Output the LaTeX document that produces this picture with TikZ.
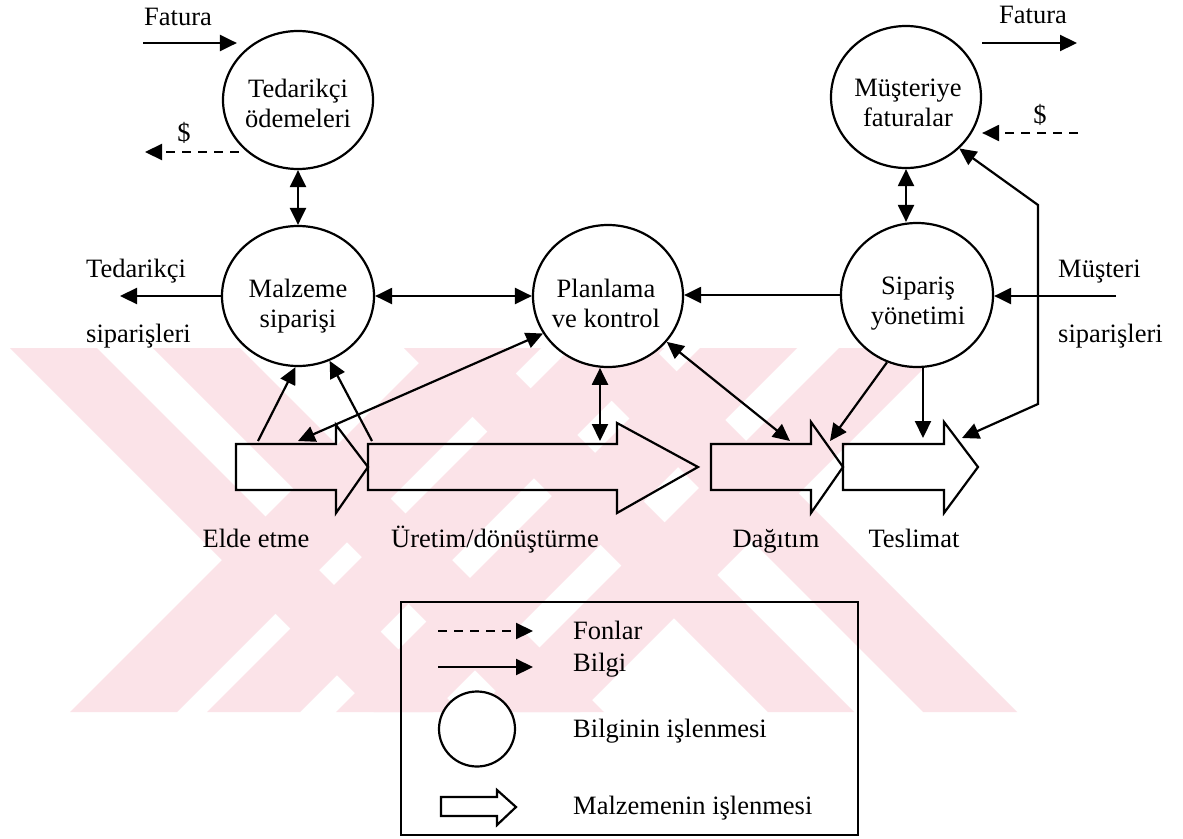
\documentclass[tikz,border=0pt]{standalone}
\usepackage{fontspec}
\setmainfont{Liberation Serif}
\usetikzlibrary{shapes.geometric,arrows.meta,calc}
\definecolor{wmpink}{RGB}{251,227,232}
\newcommand{\lblfont}{\fontsize{26.5}{30}\selectfont}

\begin{document}
\begin{tikzpicture}[x=1pt,y=-1pt,
  proc/.style={ellipse,draw,line width=2.2pt,fill=white,inner sep=0pt},
  ptext/.style={align=center,font=\lblfont,inner sep=0pt},
  lbl/.style={font=\lblfont,inner sep=0pt},
  info/.style={line width=2.2pt,-{Triangle[length=17pt,width=16pt]}},
  both/.style={line width=2.2pt,{Triangle[length=17pt,width=16pt]}-{Triangle[length=17pt,width=16pt]}},
  fund/.style={info,dash pattern=on 9pt off 7pt},
  flow/.style={draw,line width=2.2pt,line join=miter},
  wmband/.style={fill=wmpink,draw=none}]

\fill[white] (0,0) rectangle (1183,838);
\useasboundingbox (0,0) rectangle (1183,838);

% diagonal background bands
\begin{scope}
  \clip (0,348) rectangle (1183,712);
  \foreach \a/\b in {10/97,153/240,404/490,559/653}
    \fill[wmband] (\a,348) -- (\b,348) -- (\b+364,712) -- (\a+364,712) -- cycle;
  \foreach \a/\b in {70/177,207/300,336/433,475/580}
    \fill[wmband] (\a,712) -- (\b,712) -- (\b+364,348) -- (\a+364,348) -- cycle;
\end{scope}

% material flow (block arrows)
\draw[flow] (236,444) -- (336,444) -- (336,425) -- (368,467) -- (336,513) -- (336,490) -- (236,490) -- cycle;
\draw[flow] (368,444) -- (617,444) -- (617,423) -- (698,467) -- (617,513) -- (617,490) -- (368,490) -- cycle;
\draw[flow] (711,444) -- (811,444) -- (811,422) -- (843,467) -- (811,513) -- (811,490) -- (711,490) -- cycle;
\draw[flow] (843,444) -- (944,444) -- (944,422) -- (978,467) -- (944,513) -- (944,490) -- (843,490) -- cycle;

\node[lbl,anchor=base] (elde) at (256,547) {Elde etme};
\node[lbl,anchor=base] (uret) at (495,547) {Üretim/dönüştürme};
\node[lbl,anchor=base] (dagi) at (776,547) {Dağıtım};
\node[lbl,anchor=base] (tesl) at (914,547) {Teslimat};

% attachment points on the block arrows
\coordinate (eldA) at (258,441);
\coordinate (eldB) at (298,441);
\coordinate (urA)  at (372,441);
\coordinate (urB)  at (600,441);
\coordinate (dagA) at (790,441);
\coordinate (dagB) at (830,441);
\coordinate (tesA) at (923,438);
\coordinate (tesB) at (962,438);
\coordinate (lc1)  at (1038,205);
\coordinate (lc2)  at (1038,404);

% information processes
\node[proc,minimum width=150pt,minimum height=138pt] (ted)  at (298,100) {};
\node[proc,minimum width=150pt,minimum height=142pt] (mus)  at (906,97) {};
\node[proc,minimum width=152pt,minimum height=140pt] (mal)  at (298,296) {};
\node[proc,minimum width=150pt,minimum height=142pt] (plan) at (608,296) {};
\node[proc,minimum width=152pt,minimum height=144pt] (sip)  at (917,295) {};

\node[ptext] (ted-t)  at (298,103) {Tedarikçi\\ödemeleri};
\node[ptext] (mus-t)  at (908,103) {Müşteriye\\faturalar};
\node[ptext] (mal-t)  at (298,306) {Malzeme\\siparişi};
\node[ptext] (plan-t) at (606,303) {Planlama\\ve kontrol};
\node[ptext] (sip-t)  at (918,304) {Sipariş\\yönetimi};

% outside labels
\node[lbl,anchor=base] (fatL-t) at (178,25) {Fatura};
\node[lbl,anchor=base] (fatR-t) at (1033,23) {Fatura};
\node[lbl,anchor=base] (dolL-t) at (184,141) {\$};
\node[lbl,anchor=base] (dolR-t) at (1040,123) {\$};
\node[lbl,anchor=base west] (ts1) at (86,277) {Tedarikçi};
\node[lbl,anchor=base west] (ts2) at (86,342) {siparişleri};
\node[lbl,anchor=base west] (ms1) at (1058,277) {Müşteri};
\node[lbl,anchor=base west] (ms2) at (1058,342) {siparişleri};

\coordinate (fatL) at (143,43);
\coordinate (dolL) at (145,152);
\coordinate (fatR) at (1077,43);
\coordinate (dolR) at (1078,133);
\coordinate (tsL)  at (120,296);
\coordinate (msR)  at (1116,296);

% invoices and funds
\draw[info] (fatL) -- ($(fatL -| ted.west)+(15,0)$);
\draw[fund] ($(dolL -| ted.west)+(17,0)$) -- (dolL);
\draw[info] (fatR -| mus.east) -- (fatR);
\draw[fund] (dolR) -- (dolR -| mus.east);

% information links
\draw[both] (ted.south) -- (mal.north);
\draw[both] (mus.south) -- (mus.south |- sip.north);
\draw[info] (mal.west) -- (tsL);
\draw[both] (mal.east) -- (plan.west);
\draw[info] (sip.west) -- (sip.west -| plan.east);
\draw[info] (msR) -- (msR -| sip.east);

\draw[info] (eldA) -- (mal.-92);
\draw[info] (urA) -- (mal.-64);
\draw[both] (plan.-150) -- (eldB);
\draw[both] (urB |- plan.-95) -- (urB);
\draw[both] (plan.-38) -- (dagA);
\draw[info] (sip.-114) -- (dagB);
\draw[info] (sip.-85 -| tesA) -- (tesA);
\draw[both] (mus.-44) -- (lc1) -- (lc2) -- (tesB);

% legend
\node[draw,line width=2.2pt,minimum width=457pt,minimum height=233pt,inner sep=0pt] (leg) at (629.5,718.5) {};
\coordinate (lgF1) at (438,631);
\coordinate (lgF2) at (533,631);
\coordinate (lgB1) at (438,667);
\coordinate (lgB2) at (533,667);
\draw[fund] (lgF1) -- (lgF2);
\draw[info] (lgB1) -- (lgB2);
\node[proc,minimum width=76pt,minimum height=75pt] (lgC) at (477,729) {};
\draw[flow] (441,797) -- (497,797) -- (497,790) -- (516,807) -- (497,825) -- (497,816) -- (441,816) -- cycle;
\node[lbl,anchor=base west] (lgt1) at (573,639) {Fonlar};
\node[lbl,anchor=base west] (lgt2) at (573,671) {Bilgi};
\node[lbl,anchor=base west] (lgt3) at (573,737) {Bilginin işlenmesi};
\node[lbl,anchor=base west] (lgt4) at (573,814) {Malzemenin işlenmesi};
\end{tikzpicture}
\end{document}
